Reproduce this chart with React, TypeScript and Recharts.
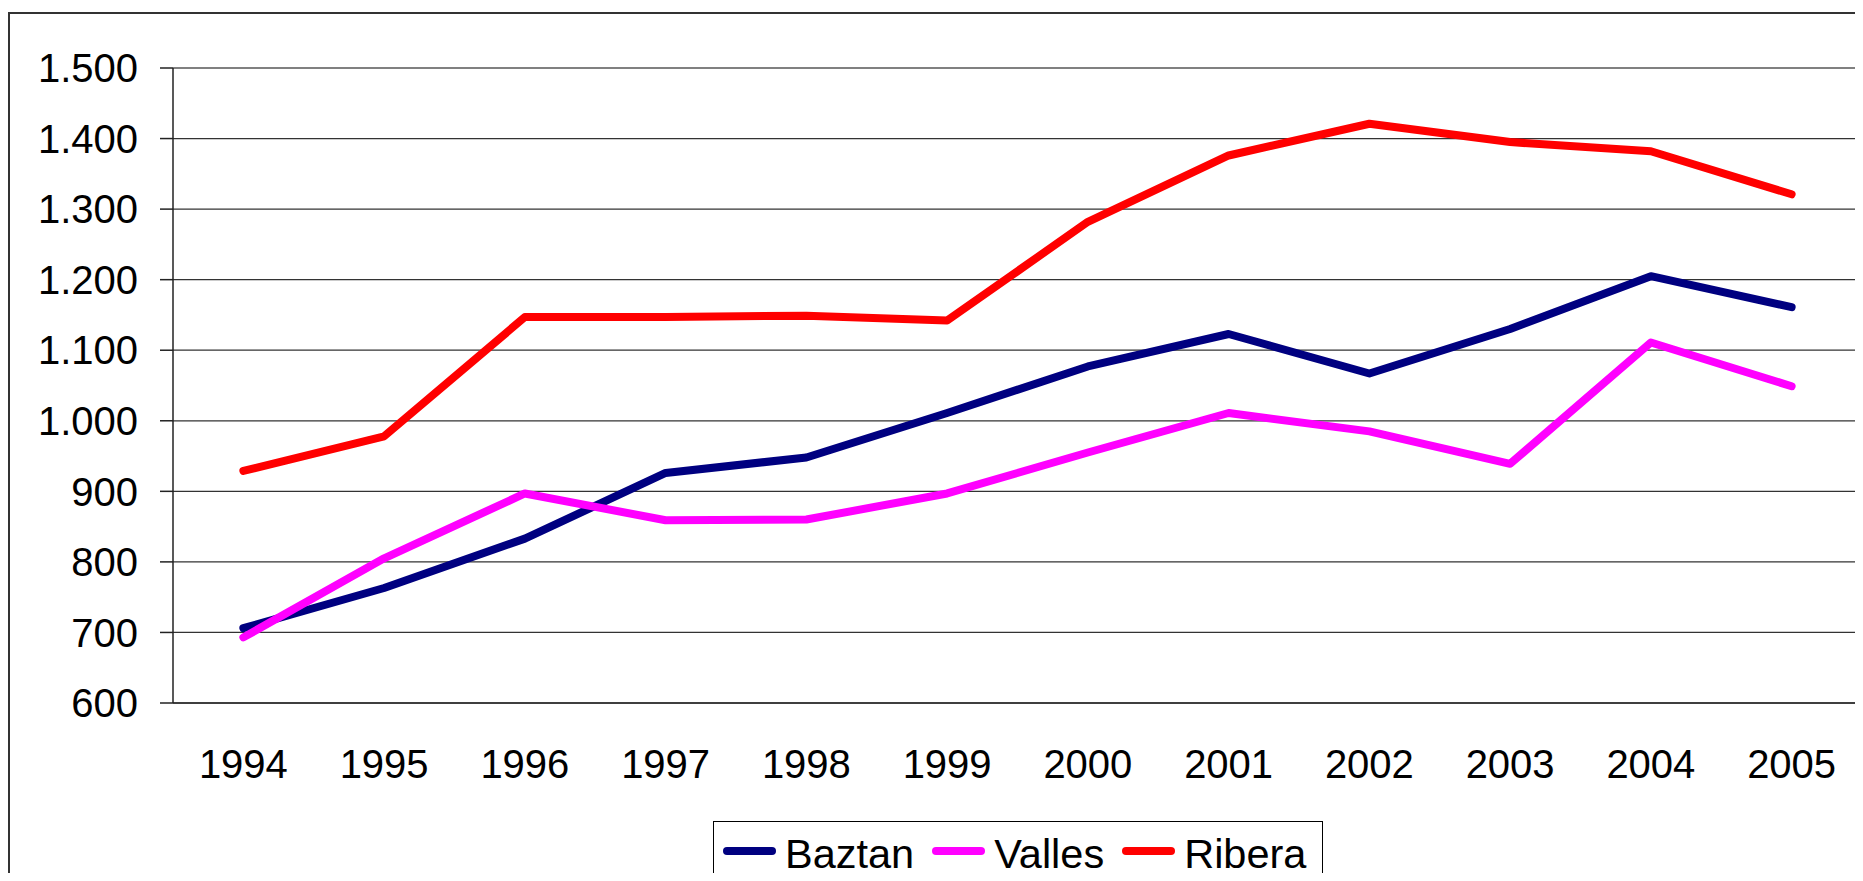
import React from 'react';
import { LineChart, Line, XAxis, YAxis, CartesianGrid, ReferenceLine } from 'recharts';

const years = ['1994', '1995', '1996', '1997', '1998', '1999', '2000', '2001', '2002', '2003', '2004', '2005'];
const baztan = [706, 763, 833, 926, 948, 1011, 1077, 1123, 1067, 1130, 1205, 1161];
const valles = [693, 805, 897, 859, 860, 897, 955, 1011, 985, 939, 1111, 1049];
const ribera = [929, 978, 1147, 1147, 1149, 1142, 1282, 1376, 1421, 1395, 1382, 1321];
const yTicks = [600, 700, 800, 900, 1000, 1100, 1200, 1300, 1400, 1500];
const seriesNames = ['Baztan', 'Valles', 'Ribera'];
const seriesColors = ['#000080', '#FF00FF', '#FF0000'];

const data = years.map((y, i) => ({ idx: i, year: y, Baztan: baztan[i], Valles: valles[i], Ribera: ribera[i] }));
const boundaryTicks = [...years.map((_, i) => i - 0.5), years.length - 0.5];
const centerTicks = years.map((_, i) => i);

const FONT = '"Liberation Sans", Arial, sans-serif';

const fmtThousands = (v: number) =>
  v >= 1000 ? `${Math.floor(v / 1000)}.${String(v % 1000).padStart(3, '0')}` : `${v}`;

export default function App() {
  return (
    <div
      style={{
        position: 'relative',
        margin: -8,
        width: 1863,
        height: 881,
        overflow: 'hidden',
        background: '#fff',
        fontFamily: FONT,
      }}
    >
      <div style={{ position: 'absolute', left: 119, top: 0, width: 1718, height: 2, background: '#ccffcc' }} />
      <div
        style={{
          position: 'absolute',
          left: 8,
          top: 12,
          width: 1900,
          height: 900,
          borderLeft: '2px solid #333',
          borderTop: '2px solid #333',
          boxSizing: 'border-box',
        }}
      />
      <div style={{ position: 'absolute', left: 0, top: 0 }}>
        <LineChart width={1863} height={881} data={data} margin={{ top: 68, right: 1, bottom: 0, left: 0 }}>
          <CartesianGrid horizontal vertical={false} stroke="#333" strokeWidth={1.2} xAxisId="a" />
          <XAxis
            xAxisId="a"
            dataKey="idx"
            type="number"
            domain={[-0.5, years.length - 0.5]}
            ticks={boundaryTicks}
            interval={0}
            height={12}
            tick={false}
            tickSize={12}
            tickLine={{ stroke: '#222', strokeWidth: 1.5 }}
            axisLine={{ stroke: '#222', strokeWidth: 1.5 }}
          />
          <XAxis
            xAxisId="b"
            dataKey="idx"
            type="number"
            domain={[-0.5, years.length - 0.5]}
            ticks={centerTicks}
            interval={0}
            height={166}
            tickSize={0}
            tickMargin={35}
            tickLine={false}
            axisLine={false}
            tickFormatter={(v: number) => years[v]}
            tick={{ fontSize: 40, fill: '#000', fontFamily: FONT }}
          />
          <YAxis
            type="number"
            domain={[600, 1500]}
            ticks={yTicks}
            interval={0}
            width={173}
            tickSize={13}
            tickMargin={22}
            tickFormatter={fmtThousands}
            tick={{ fontSize: 40, fill: '#000', fontFamily: FONT }}
            tickLine={{ stroke: '#222', strokeWidth: 1.5 }}
            axisLine={{ stroke: '#222', strokeWidth: 1.5 }}
          />
          <ReferenceLine xAxisId="a" y={1500} stroke="#808080" strokeWidth={2} />
          <ReferenceLine xAxisId="a" x={years.length - 0.5} stroke="#808080" strokeWidth={2} />
          {seriesNames.map((name, i) => (
            <Line
              key={name}
              xAxisId="a"
              type="linear"
              dataKey={name}
              stroke={seriesColors[i]}
              strokeWidth={8}
              strokeLinecap="round"
              strokeLinejoin="round"
              dot={false}
              activeDot={false}
              isAnimationActive={false}
            />
          ))}
        </LineChart>
      </div>
      <div
        style={{
          position: 'absolute',
          left: 713,
          top: 821,
          width: 610,
          height: 80,
          border: '1px solid #000',
          boxSizing: 'border-box',
          paddingLeft: 9,
          paddingTop: 8,
          display: 'flex',
          alignItems: 'flex-start',
        }}
      >
        {seriesNames.map((name, i) => (
          <div key={name} style={{ display: 'flex', alignItems: 'center', marginRight: i < seriesNames.length - 1 ? 18 : 0 }}>
            <div
              style={{
                width: 53,
                height: 8,
                borderRadius: 4,
                background: seriesColors[i],
                marginRight: 9,
                marginTop: -7,
              }}
            />
            <span style={{ fontSize: 41.5, lineHeight: 'normal', color: '#000', fontFamily: FONT }}>{name}</span>
          </div>
        ))}
      </div>
    </div>
  );
}
